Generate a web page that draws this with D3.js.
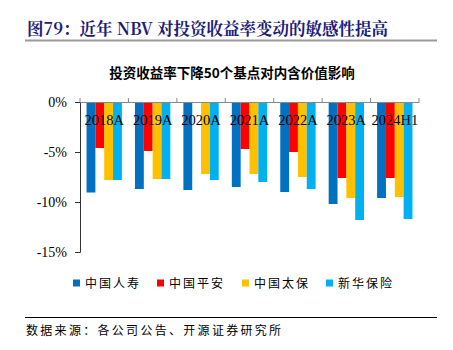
<!DOCTYPE html>
<html>
<head>
<meta charset="utf-8">
<script src="https://cdn.jsdelivr.net/npm/d3@7"></script>
<style>
  body { margin: 0; background: #fff; }
  svg { display: block; }
</style>
</head>
<body>
<div id="chart"></div>
<script>
const categories = ["2018A", "2019A", "2020A", "2021A", "2022A", "2023A", "2024H1"];
const seriesNames = ["中国人寿", "中国平安", "中国太保", "新华保险"];
const chinaLife = [-9.05, -8.7, -8.8, -8.5, -9.0, -10.2, -9.6];
const pingAn = [-4.6, -4.9, null, -4.7, -5.0, -7.6, -7.6];
const cpic = [-7.8, -7.7, -7.2, -7.2, -7.5, -9.6, -9.5];
const nci = [-7.8, -7.7, -7.8, -8.0, -8.7, -11.8, -11.7];
const yTicks = [0, -5, -10, -15];
const colors = ["#0070C0", "#FF0000", "#FFC000", "#00B0F0"];

const width = 453, height = 350;
const serif = "'Liberation Serif', 'Times New Roman', serif";
const cjk = "'Noto Sans CJK SC', sans-serif";

const svg = d3.select("#chart").append("svg")
    .attr("width", width)
    .attr("height", height);

// header
svg.append("text")
    .attr("x", 27).attr("y", 35)
    .attr("font-family", "'Noto Serif CJK SC', 'Noto Sans CJK SC', serif")
    .attr("font-weight", "bold")
    .attr("font-size", 16.5)
    .attr("fill", "#1c1c78")
    .text("图79：近年 NBV 对投资收益率变动的敏感性提高");
svg.append("line")
    .attr("x1", 25).attr("x2", 437).attr("y1", 40.5).attr("y2", 40.5)
    .attr("stroke", "#999").attr("stroke-width", 2);

// chart title
svg.append("text")
    .attr("x", 232).attr("y", 78)
    .attr("text-anchor", "middle")
    .attr("font-family", cjk)
    .attr("font-weight", "bold")
    .attr("font-size", 13.5)
    .attr("fill", "#000")
    .text("投资收益率下降50个基点对内含价值影响");

const plot = {left: 80, right: 419, top: 102, bottom: 252};

const x = d3.scaleBand().domain(categories).range([plot.left, plot.right]).paddingInner(0.27).paddingOuter(0.135);
const xs = d3.scaleBand().domain(seriesNames).range([0, x.bandwidth()]);
const y = d3.scaleLinear().domain([0, -15]).range([plot.top, plot.bottom]);

const series = [chinaLife, pingAn, cpic, nci];

series.forEach((vals, si) => {
    svg.append("g").selectAll("rect")
        .data(vals.map((v, i) => ({cat: categories[i], v})).filter(d => d.v !== null))
        .enter().append("rect")
        .attr("x", d => x(d.cat) + xs(seriesNames[si]))
        .attr("width", xs.bandwidth())
        .attr("y", y(0))
        .attr("height", d => y(d.v) - y(0))
        .attr("fill", colors[si]);
});

// y axis
const yAxis = svg.append("g")
    .attr("transform", `translate(${plot.left},0)`)
    .call(d3.axisLeft(y).tickValues(yTicks).tickFormat(d => d + "%").tickSize(5).tickPadding(8));
yAxis.select(".domain").attr("stroke", "#333");
yAxis.selectAll(".tick line").attr("stroke", "#333");
yAxis.selectAll("text").attr("font-family", serif).attr("font-size", 14).attr("fill", "#000");

// x axis at 0
const outer = d3.scaleBand().domain(categories).range([plot.left, plot.right]);
const xAxis = svg.append("g")
    .attr("transform", `translate(0,${y(0)})`)
    .call(d3.axisTop(outer).tickSizeInner(0).tickSizeOuter(0).tickFormat(""));
xAxis.select(".domain").attr("stroke", "#888");
svg.append("g").selectAll("line")
    .data(categories.map(c => outer(c)).concat([plot.right]))
    .enter().append("line")
    .attr("x1", d => d).attr("x2", d => d)
    .attr("y1", y(0)).attr("y2", y(0) - 4)
    .attr("stroke", "#888");

svg.append("g").selectAll("text")
    .data(categories)
    .enter().append("text")
    .attr("x", d => outer(d) + outer.bandwidth() / 2)
    .attr("y", y(0) + 23)
    .attr("text-anchor", "middle")
    .attr("font-family", serif)
    .attr("font-size", 14.5)
    .attr("fill", "#000")
    .text(d => d);

// legend
const legendX = [73, 157, 242, 326];
const legend = svg.append("g").selectAll("g")
    .data(seriesNames)
    .enter().append("g")
    .attr("transform", (d, i) => `translate(${legendX[i]},283)`);
legend.append("rect")
    .attr("x", 0).attr("y", -3.5).attr("width", 7).attr("height", 7)
    .attr("fill", (d, i) => colors[i]);
legend.append("text")
    .attr("x", 12).attr("y", 4.5)
    .attr("font-family", cjk)
    .attr("font-size", 12)
    .attr("letter-spacing", 2)
    .attr("fill", "#000")
    .text(d => d);

// footer
svg.append("line")
    .attr("x1", 25).attr("x2", 437).attr("y1", 317.5).attr("y2", 317.5)
    .attr("stroke", "#000").attr("stroke-width", 1);
svg.append("text")
    .attr("x", 26).attr("y", 335)
    .attr("font-family", cjk)
    .attr("font-size", 12)
    .attr("letter-spacing", 2.3)
    .attr("fill", "#000")
    .text("数据来源：各公司公告、开源证券研究所");
</script>
</body>
</html>
